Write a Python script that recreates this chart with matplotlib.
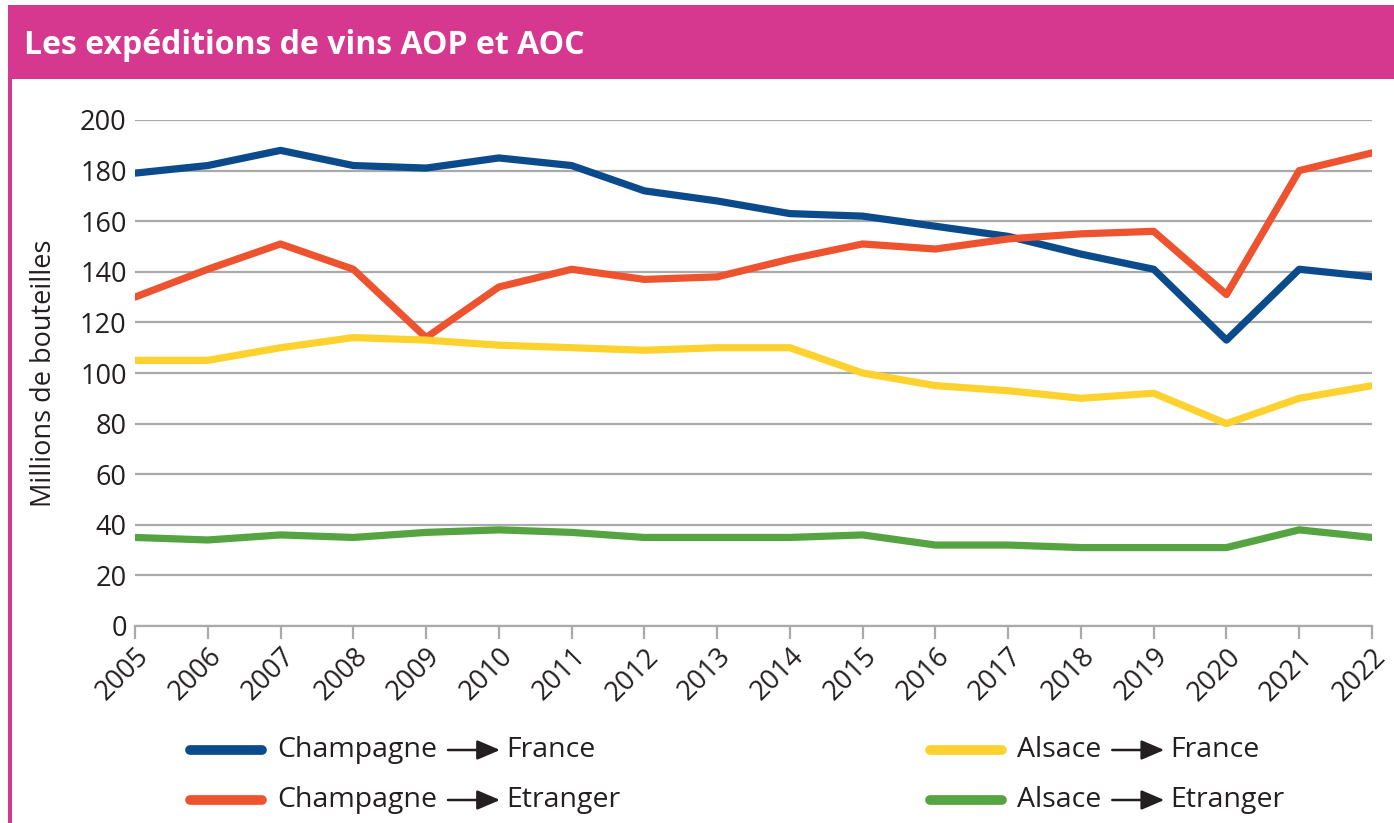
import matplotlib.pyplot as plt
from matplotlib.lines import Line2D
from matplotlib.patches import Rectangle, FancyArrowPatch

plt.rcParams['font.family'] = ['Open Sans', 'DejaVu Sans']

annees = list(range(2005, 2023))
champagne_france = [179, 182, 188, 182, 181, 185, 182, 172, 168, 163, 162, 158, 154, 147, 141, 113, 141, 138]
champagne_etranger = [130, 141, 151, 141, 114, 134, 141, 137, 138, 145, 151, 149, 153, 155, 156, 131, 180, 187]
alsace_france = [105, 105, 110, 114, 113, 111, 110, 109, 110, 110, 100, 95, 93, 90, 92, 80, 90, 95]
alsace_etranger = [35, 34, 36, 35, 37, 38, 37, 35, 35, 35, 36, 32, 32, 31, 31, 31, 38, 35]

rose = '#D6388F'
texte = '#231F20'
series = [
    (champagne_france, '#0B4A8B', 'Champagne', 'France'),
    (champagne_etranger, '#EE5330', 'Champagne', 'Etranger'),
    (alsace_france, '#FDD22F', 'Alsace', 'France'),
    (alsace_etranger, '#55A441', 'Alsace', 'Etranger'),
]

W, H = 1394, 823
fig = plt.figure(figsize=(W / 100, H / 100), dpi=100)

# bandeau de titre et bordure gauche
fig.patches.append(Rectangle((8 / W, 1 - 79 / H), 1, 74 / H, transform=fig.transFigure,
                             facecolor=rose, edgecolor='none', zorder=0))
fig.patches.append(Rectangle((8 / W, 0), 4 / W, 1 - 79 / H, transform=fig.transFigure,
                             facecolor=rose, edgecolor='none', zorder=0))
fig.text(24 / W, 1 - 46 / H, "Les expéditions de vins AOP et AOC", color='white',
         fontsize=23, fontweight='bold', va='center', ha='left')

ax = fig.add_axes([135 / W, 1 - 626 / H, 1237 / W, 506 / H])
for valeurs, couleur, _, _ in series:
    ax.plot(annees, valeurs, color=couleur, linewidth=5.2, solid_capstyle='round',
            solid_joinstyle='round', zorder=3)

ax.set_xlim(2005, 2022)
ax.set_ylim(0, 200)
ax.set_yticks(range(0, 201, 20))
ax.set_xticks(annees)
ax.set_xticklabels([str(a) for a in annees], rotation=45, ha='right', rotation_mode='anchor')
ax.grid(axis='y', color='#A9ABAA', linewidth=1.6)
ax.set_axisbelow(True)
for cote in ['top', 'right', 'left']:
    ax.spines[cote].set_visible(False)
ax.spines['bottom'].set_color('#A9ABAA')
ax.spines['bottom'].set_linewidth(1.6)
ax.tick_params(axis='y', length=0, labelsize=19.5, colors=texte, pad=6)
ax.tick_params(axis='x', length=9, width=1.6, color='#A9ABAA', labelsize=19.5,
               labelcolor=texte, pad=3)
ax.set_ylabel("Millions de bouteilles", fontsize=19.5, color=texte, labelpad=16)

# légende sur deux colonnes : trait, origine, flèche, destination
renderer = fig.canvas.get_renderer()
positions = [(190, 750), (190, 800), (930, 750), (930, 800)]
for (valeurs, couleur, origine, dest), (x0, y0) in zip(series, positions):
    yf = 1 - y0 / H
    fig.lines.append(Line2D([x0 / W, (x0 + 72) / W], [yf, yf], transform=fig.transFigure,
                            color=couleur, linewidth=7, solid_capstyle='round'))
    t = fig.text((x0 + 87) / W, yf, origine, fontsize=20.5, color=texte, va='center', ha='left')
    fin = t.get_window_extent(renderer).x1
    fig.add_artist(FancyArrowPatch(
        ((fin + 11) / W, yf), ((fin + 63) / W, yf), transform=fig.transFigure,
        arrowstyle='-|>,head_length=0.7,head_width=0.3', mutation_scale=20,
        color='#231F20', linewidth=1.8, shrinkA=0, shrinkB=0))
    fig.text((fin + 69) / W, yf, dest, fontsize=20.5, color=texte, va='center', ha='left')

fig.savefig('out.png', dpi=100)
